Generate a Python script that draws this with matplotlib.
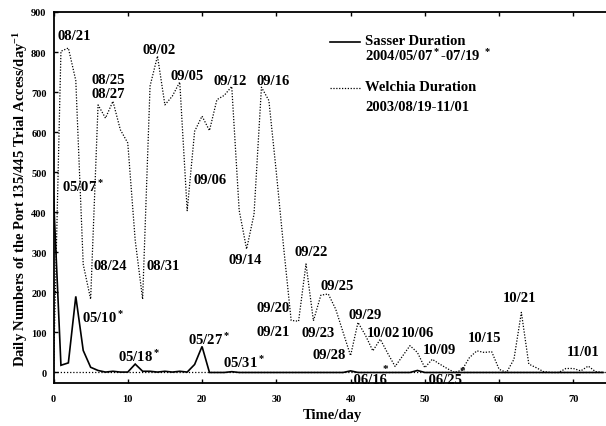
import matplotlib
matplotlib.use("Agg")
import matplotlib.pyplot as plt
import numpy as np

plt.rcParams['font.family'] = ['Liberation Serif', 'DejaVu Serif']
plt.rcParams['font.weight'] = 'bold'
plt.rcParams['mathtext.fontset'] = 'custom'
plt.rcParams['mathtext.rm'] = 'Liberation Serif:bold'
plt.rcParams['mathtext.bf'] = 'Liberation Serif:bold'
plt.rcParams['mathtext.it'] = 'Liberation Serif:bold'

# ---------------- data ----------------
sasser_days = list(range(0, 75))
sasser_vals = [440, 18, 24, 190, 55, 13, 5, 1, 3, 1,
               1, 21, 3, 3, 1, 3, 1, 3, 1, 20,
               65, 0, 0, 0, 2, 0, 0, 0, 0, 0,
               0, 0, 0, 0, 0, 0, 0, 0, 0, 0,
               4, 0, 0, 0, 0, 0, 0, 0, 0, 5,
               0, 0, 0, 0, 0, 0, 0, 0, 0, 0,
               0, 0, 0, 0, 0, 0, 0, 0, 0, 0,
               0, 0, 0, 0, 0]

welchia_days = list(range(0, 75))
welchia_vals = [0, 802, 810, 729, 270, 183, 668, 635, 677, 606,
                573, 330, 183, 715, 790, 668, 690, 725, 404, 602,
                640, 604, 681, 692, 714, 405, 308, 395, 712, 679,
                500, 310, 130, 128, 271, 129, 193, 196, 158, 100,
                42, 125, 93, 54, 83, 48, 15, 41, 67, 50,
                12, 33, 21, 10, 0, 6, 37, 54, 50, 52,
                8, 0, 33, 150, 21, 12, 2, 0, 0, 10,
                10, 4, 16, 2, 0]

# annotation labels: (text, day, value)
date_labels = [
    ("08/21", 0.47, 841), ("09/02", 11.92, 807), ("08/25", 5.18, 731),
    ("08/27", 5.18, 696), ("09/05", 15.82, 741), ("09/12", 21.61, 728),
    ("09/16", 27.27, 728), ("05/07$^*$", 1.14, 466), ("09/06", 18.79, 483),
    ("08/24", 5.32, 266), ("08/31", 12.46, 266), ("09/14", 23.5, 283),
    ("05/10$^*$", 3.84, 138), ("05/18$^*$", 8.69, 41), ("05/27$^*$", 18.11, 83),
    ("05/31$^*$", 22.83, 26), ("09/20", 27.27, 163), ("09/21", 27.27, 103),
    ("09/22", 32.39, 303), ("09/23", 33.33, 101), ("09/25", 35.89, 216),
    ("09/28", 34.81, 46), ("09/29", 39.66, 146), ("10/02", 42.22, 101),
    ("10/06", 46.8, 101), ("10/09", 49.76, 58), ("10/15", 55.82, 88),
    ("10/21", 60.53, 188), ("11/01", 69.15, 53),
    (".06/16", 39.92, -17), (".06/25", 50.03, -17),
]
star_marks = [(44.7, 11), (55.1, 6)]

xticks = list(range(0, 71, 10))
yticks = list(range(0, 901, 100))

# ---------------- figure ----------------
fig = plt.figure(figsize=(6.06, 4.27), dpi=100)
ax = fig.add_axes([0.0883, 0.1, 0.9191, 0.8696])

ax.axhline(0, color='black', lw=0.9, linestyle=(0, (1, 1.5)))
ax.plot(sasser_days, sasser_vals, color='black', lw=1.2, solid_joinstyle='miter')
ax.plot(welchia_days, welchia_vals, color='black', lw=0.9, linestyle=(0, (1, 1.3)))

ax.set_xlim(0, 75)
ax.set_ylim(-27, 900)
ax.set_xticks(xticks)
ax.set_yticks(yticks)
ax.tick_params(direction='in', length=3, width=1, top=True, right=True,
               labelsize=7.5)
ax.tick_params(axis='x', pad=8)
ax.tick_params(axis='y', pad=5)
for lab in ax.get_xticklabels() + ax.get_yticklabels():
    lab.set_fontweight('bold')
for sp in ax.spines.values():
    sp.set_linewidth(1.3)

ax.set_xlabel("Time/day", fontsize=10.5, fontweight='bold', labelpad=3)
ax.set_ylabel("Daily Numbers of the Port 135/445 Trial Access/day$^{-1}$",
              fontsize=10.5, fontweight='bold', labelpad=1)

for txt, d, v in date_labels:
    ax.text(d, v, txt, fontsize=10.5, fontweight='bold', ha='left', va='center')
for d, v in star_marks:
    ax.text(d, v, "*", fontsize=8, fontweight='bold', ha='center', va='center')

# legend (manual, gnuplot style)
tr = ax.transAxes
ax.plot([0.4964, 0.5503], [0.9192, 0.9192], transform=tr, color='black', lw=1.2)
ax.plot([0.4964, 0.5503], [0.7953, 0.7953], transform=tr, color='black', lw=0.9,
        linestyle=(0, (1, 1.3)))
ax.text(0.5592, 0.9219, "Sasser Duration", transform=tr, fontsize=10.5,
        fontweight='bold', va='center', ha='left')
ax.text(0.5592, 0.8842, "2004/05/07$^*$-07/19 $^*$", transform=tr, fontsize=10.5,
        fontweight='bold', va='center', ha='left')
ax.text(0.5592, 0.7980, "Welchia Duration", transform=tr, fontsize=10.5,
        fontweight='bold', va='center', ha='left')
ax.text(0.5592, 0.7442, "2003/08/19-11/01", transform=tr, fontsize=10.5,
        fontweight='bold', va='center', ha='left')

fig.savefig("out.png", dpi=100)
